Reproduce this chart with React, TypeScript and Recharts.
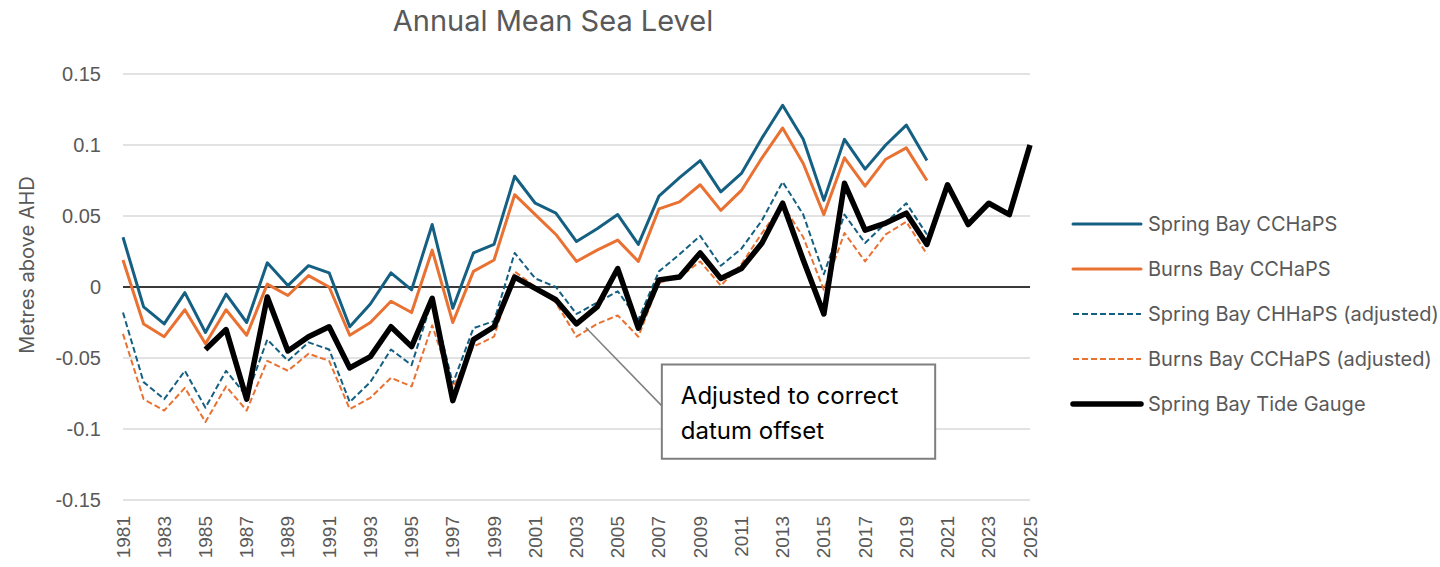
import { LineChart, Line, XAxis, YAxis, CartesianGrid, ReferenceLine, ReferenceArea } from "recharts";

const years = [
  1981, 1982, 1983, 1984, 1985, 1986, 1987, 1988, 1989, 1990,
  1991, 1992, 1993, 1994, 1995, 1996, 1997, 1998, 1999, 2000,
  2001, 2002, 2003, 2004, 2005, 2006, 2007, 2008, 2009, 2010,
  2011, 2012, 2013, 2014, 2015, 2016, 2017, 2018, 2019, 2020,
  2021, 2022, 2023, 2024, 2025,
];

// 1981-2020
const springBay = [
  0.035, -0.014, -0.026, -0.004, -0.032, -0.005, -0.025, 0.017, 0.001, 0.015,
  0.01, -0.028, -0.012, 0.01, -0.002, 0.044, -0.015, 0.024, 0.03, 0.078,
  0.059, 0.052, 0.032, 0.041, 0.051, 0.03, 0.064, 0.077, 0.089, 0.067,
  0.08, 0.105, 0.128, 0.104, 0.061, 0.104, 0.083, 0.1, 0.114, 0.089,
];

const burnsBay = [
  0.019, -0.026, -0.035, -0.016, -0.04, -0.016, -0.034, 0.002, -0.006, 0.008,
  0.0, -0.034, -0.025, -0.01, -0.018, 0.026, -0.025, 0.011, 0.019, 0.065,
  0.051, 0.037, 0.018, 0.026, 0.033, 0.018, 0.055, 0.06, 0.072, 0.054,
  0.068, 0.091, 0.112, 0.087, 0.051, 0.091, 0.071, 0.09, 0.098, 0.075,
];

const springBayAdj = [
  -0.018, -0.067, -0.079, -0.059, -0.085, -0.059, -0.077, -0.037, -0.052, -0.039,
  -0.044, -0.081, -0.067, -0.044, -0.055, -0.009, -0.068, -0.029, -0.024, 0.024,
  0.006, 0.0, -0.019, -0.011, -0.003, -0.023, 0.011, 0.023, 0.036, 0.015,
  0.027, 0.047, 0.074, 0.051, 0.009, 0.051, 0.031, 0.045, 0.059, 0.037,
];

const burnsBayAdj = [
  -0.033, -0.079, -0.087, -0.071, -0.095, -0.07, -0.087, -0.052, -0.059, -0.047,
  -0.052, -0.086, -0.078, -0.064, -0.07, -0.027, -0.071, -0.042, -0.035, 0.011,
  0.0, -0.011, -0.035, -0.026, -0.02, -0.035, 0.003, 0.007, 0.018, 0.001,
  0.016, 0.038, 0.058, 0.035, -0.002, 0.038, 0.018, 0.037, 0.046, 0.023,
];

// 1985-2025
const tideGauge = [
  null, null, null, null,
  -0.044, -0.03, -0.079, -0.007, -0.045, -0.035,
  -0.028, -0.057, -0.049, -0.028, -0.042, -0.008, -0.08, -0.037, -0.028, 0.007,
  -0.001, -0.009, -0.026, -0.014, 0.013, -0.029, 0.005, 0.007, 0.024, 0.006,
  0.013, 0.031, 0.059, 0.019, -0.019, 0.073, 0.04, 0.045, 0.052, 0.03,
  0.072, 0.044, 0.059, 0.051, 0.1,
];

const yTicks = [-0.15, -0.1, -0.05, 0, 0.05, 0.1, 0.15];
const xTicks = years.filter((y) => y % 2 === 1);

const BLUE = "#156082";
const ORANGE = "#E97132";
const GREY_TEXT = "#595959";
const SANS = "Inter, 'Noto Sans', sans-serif";
const TICK_FONT = "'Liberation Sans', Arial, sans-serif";

const series = [
  { key: "springBay", name: "Spring Bay CCHaPS", color: BLUE, width: 3, dash: undefined },
  { key: "burnsBay", name: "Burns Bay CCHaPS", color: ORANGE, width: 3, dash: undefined },
  { key: "springBayAdj", name: "Spring Bay CHHaPS (adjusted)", color: BLUE, width: 2, dash: "6 3" },
  { key: "burnsBayAdj", name: "Burns Bay CCHaPS (adjusted)", color: ORANGE, width: 2, dash: "6 3" },
  { key: "tideGauge", name: "Spring Bay Tide Gauge", color: "#000000", width: 5.5, dash: undefined },
];

const data = years.map((year, i) => ({
  year,
  springBay: springBay[i] ?? null,
  burnsBay: burnsBay[i] ?? null,
  springBayAdj: springBayAdj[i] ?? null,
  burnsBayAdj: burnsBayAdj[i] ?? null,
  tideGauge: tideGauge[i] ?? null,
}));

const fmt = (v: number) => String(Number(v.toFixed(2)));

function YearTick({ x, y, payload }: any) {
  return (
    <text
      x={x}
      y={y}
      transform={`rotate(-90 ${x} ${y})`}
      textAnchor="end"
      dominantBaseline="central"
      fontSize={19}
      fontFamily={TICK_FONT}
      fill={GREY_TEXT}
    >
      {payload.value}
    </text>
  );
}

function NoteLabel({ viewBox }: any) {
  const { x, y } = viewBox;
  return (
    <text fontSize={24} fontFamily={SANS} fill="#000">
      <tspan x={x + 19} y={y + 40}>Adjusted to correct</tspan>
      <tspan x={x + 19} y={y + 75}>datum offset</tspan>
    </text>
  );
}

function AxisTitle({ viewBox }: any) {
  const x = viewBox.x + 27;
  const y = 265;
  return (
    <text
      x={x}
      y={y}
      transform={`rotate(-90 ${x} ${y})`}
      textAnchor="middle"
      dominantBaseline="central"
      fontSize={20}
      fontFamily={SANS}
      fill={GREY_TEXT}
    >
      Metres above AHD
    </text>
  );
}

export default function App() {
  return (
    <div style={{ position: "relative", width: 1440, height: 567, background: "#fff" }}>
      <style>{`body { margin: 0; }`}</style>
      <div
        style={{
          position: "absolute",
          left: 0,
          width: 1106,
          top: 3,
          textAlign: "center",
          fontFamily: SANS,
          fontSize: 29,
          color: GREY_TEXT,
        }}
      >
        Annual Mean Sea Level
      </div>
      <LineChart width={1440} height={567} data={data} margin={{ top: 74, right: 410, bottom: 0, left: 0 }}>
        <CartesianGrid vertical={false} stroke="#d9d9d9" strokeWidth={1.5} />
        <XAxis
          dataKey="year"
          type="number"
          domain={[1981, 2025]}
          ticks={xTicks}
          interval={0}
          height={67}
          axisLine={false}
          tickLine={false}
          tickSize={0}
          tickMargin={16}
          tick={<YearTick />}
        />
        <YAxis
          domain={[-0.15, 0.15]}
          ticks={yTicks}
          width={123}
          axisLine={false}
          tickLine={false}
          tickSize={0}
          tickMargin={22}
          tickFormatter={fmt}
          tick={{ fontSize: 20, fontFamily: TICK_FONT, fill: GREY_TEXT }}
          label={<AxisTitle />}
        />
        <ReferenceLine y={0} stroke="#000" strokeWidth={1.5} />
        {series.map((s) => (
          <Line
            key={s.key}
            dataKey={s.key}
            name={s.name}
            type="linear"
            stroke={s.color}
            strokeWidth={s.width}
            strokeDasharray={s.dash}
            strokeLinejoin="round"
            dot={false}
            activeDot={false}
            connectNulls={false}
            isAnimationActive={false}
          />
        ))}
        <ReferenceLine
          segment={[
            { x: 2003.45, y: -0.0285 },
            { x: 2007.14, y: -0.0837 },
          ]}
          stroke="#7f7f7f"
          strokeWidth={1.5}
        />
        <ReferenceArea
          x1={2007.14}
          x2={2020.4}
          y1={-0.121}
          y2={-0.0545}
          fill="#fff"
          fillOpacity={1}
          stroke="#7f7f7f"
          strokeWidth={2}
          label={<NoteLabel />}
        />
      </LineChart>
      <div style={{ position: "absolute", left: 1070, top: 201, fontFamily: SANS, fontSize: 20, color: GREY_TEXT }}>
        {series.map((s) => (
          <div key={s.key} style={{ display: "flex", alignItems: "center", height: 45 }}>
            <svg width={74} height={10} style={{ marginRight: 4 }}>
              <line
                x1={3}
                y1={5}
                x2={71}
                y2={5}
                stroke={s.color}
                strokeWidth={s.width}
                strokeDasharray={s.dash}
                strokeLinecap={s.dash ? "butt" : "round"}
              />
            </svg>
            <span>{s.name}</span>
          </div>
        ))}
      </div>
    </div>
  );
}
